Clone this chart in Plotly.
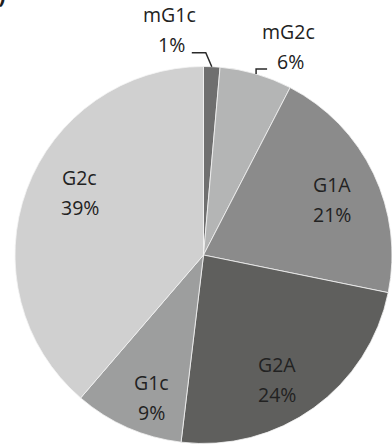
import math
import plotly.graph_objects as go

# ---------------- data ----------------
labels = ["mG1c", "mG2c", "G1A", "G2A", "G1c", "G2c"]
values = [1.4, 6.2, 20.6, 23.7, 9.4, 38.7]

# ---------------- style ----------------
colors = ["#6f6f6f", "#b4b5b5", "#8b8b8b", "#5f5f5d", "#9d9e9e", "#d0d0d0"]
W, H = 392, 445
DOM_X = [15 / W, 1.0]
DOM_Y = [0.0, 380 / H]
FONT = dict(family="Open Sans, Lato, sans-serif", size=19.5, color="#222222")
INSIDE_R = 0.75
LINE_GAP = 15
# pixel nudges of inside label blocks (Excel best-fit placement)
NUDGE = {"G1A": (1, 5), "G2A": (-9, 10), "G1c": (5, 13), "G2c": (9, -13)}
# outside labels: leader path offsets and label offsets relative to slice edge
OUTSIDE = {
    "mG1c": dict(path=[(0, 0), (-6, -14), (-20, -14)], pct=(-40, -22), name=(-42, -52)),
    "mG2c": dict(path=[(0, 0), (0, -5), (11, -5)], pct=(34, -12), name=(32, -42)),
}

# ---------------- geometry ----------------
dw = (DOM_X[1] - DOM_X[0]) * W
dh = (DOM_Y[1] - DOM_Y[0]) * H
R = min(dw, dh) / 2
CX = DOM_X[0] * W + dw / 2
CY = H - (DOM_Y[0] * H + dh / 2)


def px(x):
    return x / W


def py(y):
    return 1 - y / H


total = sum(values)
mids = []
cum = 0.0
for v in values:
    mids.append((cum + v / 2) / total * 2 * math.pi)
    cum += v
pct = [f"{round(v / total * 100)}%" for v in values]

fig = go.Figure(
    go.Pie(
        labels=labels,
        values=values,
        sort=False,
        direction="clockwise",
        rotation=0,
        marker=dict(colors=colors, line=dict(color="#f4f4f4", width=0.8)),
        textinfo="none",
        hoverinfo="none",
        showlegend=False,
        domain=dict(x=DOM_X, y=DOM_Y),
    )
)

annotations = []
shapes = []
for lab, a, p in zip(labels, mids, pct):
    if lab in OUTSIDE:
        ex = CX + R * math.sin(a)
        ey = CY - R * math.cos(a)
        o = OUTSIDE[lab]
        pts = [(ex + dx, ey + dy) for dx, dy in o["path"]]
        path = "M " + " L ".join(f"{px(x)},{py(y)}" for x, y in pts)
        shapes.append(dict(type="path", xref="paper", yref="paper", path=path,
                           line=dict(color="#2a2a2a", width=1.5)))
        annotations.append(dict(x=px(ex + o["name"][0]), y=py(ey + o["name"][1]), text=lab))
        annotations.append(dict(x=px(ex + o["pct"][0]), y=py(ey + o["pct"][1]), text=p))
    else:
        nx, ny = NUDGE.get(lab, (0, 0))
        lx = CX + INSIDE_R * R * math.sin(a) + nx
        ly = CY - INSIDE_R * R * math.cos(a) + ny
        annotations.append(dict(x=px(lx), y=py(ly - LINE_GAP), text=lab))
        annotations.append(dict(x=px(lx), y=py(ly + LINE_GAP), text=p))

for an in annotations:
    an.update(xref="paper", yref="paper", showarrow=False,
              xanchor="center", yanchor="middle", font=FONT)

# panel letter, mostly cut off at the top-left corner
annotations.append(dict(x=px(7), y=py(11), xref="paper", yref="paper", text="<b>b)</b>",
                        showarrow=False, xanchor="right", yanchor="bottom",
                        font=dict(family="Open Sans, sans-serif", size=22, color="#1e1e1e")))

fig.update_layout(
    width=W,
    height=H,
    margin=dict(l=0, r=0, t=0, b=0),
    paper_bgcolor="#ffffff",
    plot_bgcolor="#ffffff",
    annotations=annotations,
    shapes=shapes,
)

fig.write_html("out.html", config={"displayModeBar": False})
